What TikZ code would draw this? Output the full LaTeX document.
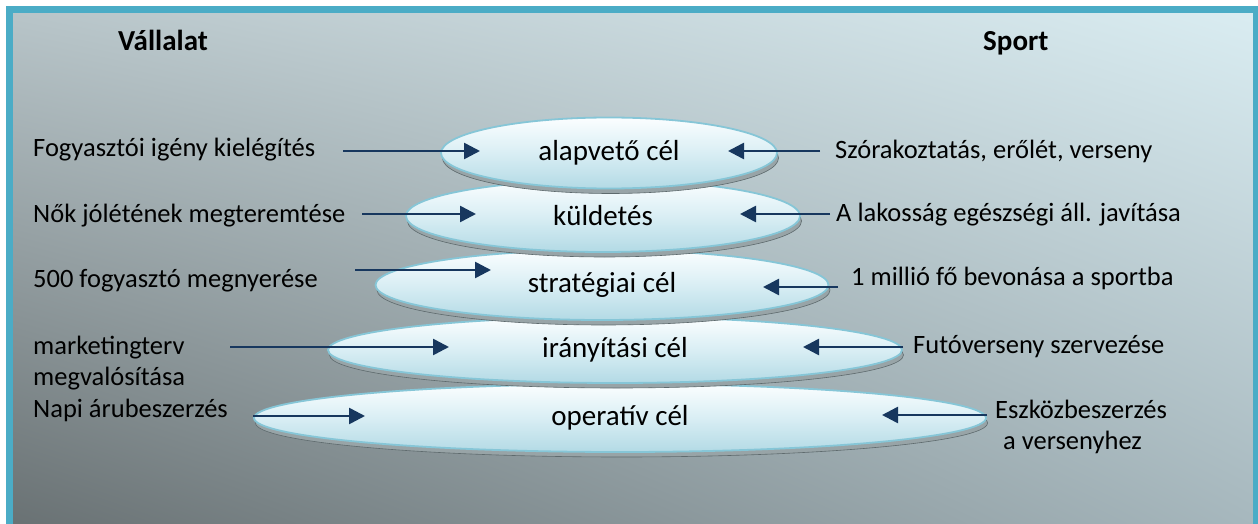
\documentclass[tikz,border=0pt]{standalone}
\usepackage{fontspec}
\setmainfont{Carlito}
\usetikzlibrary{shapes.geometric,shadows,shadings,arrows.meta}
\definecolor{frameteal}{HTML}{4BACC6}
\definecolor{bgUL}{HTML}{B8C5C9}
\definecolor{bgUR}{HTML}{DAEDF2}
\definecolor{bgLL}{HTML}{687072}
\definecolor{bgLR}{HTML}{A6B7BD}
\definecolor{navy}{HTML}{17375E}
\definecolor{elltop}{HTML}{FBFEFF}
\definecolor{ellmid}{HTML}{D9EEF4}
\definecolor{ellbot}{HTML}{B3DAE5}
\definecolor{ellline}{HTML}{86C6D7}
\definecolor{shfill}{HTML}{98A4A7}
\definecolor{shline}{HTML}{5E6A6D}
\begin{document}
\begin{tikzpicture}[x=1pt,y=-1pt,
 lvl/.style={ellipse, inner sep=0pt, draw=ellline, line width=1.8pt,
   top color=elltop, bottom color=ellbot, middle color=ellmid,
   font=\fontsize{29}{34}\selectfont, text=black,
   general shadow={shadow xshift=1.5pt, shadow yshift=-5pt, fill=shfill, draw=shline, line width=0.6pt}},
 lab/.style={anchor=base west, inner sep=0pt, font=\fontsize{26.5}{31}\selectfont, align=left, text=black},
 head/.style={anchor=base west, inner sep=0pt, font=\fontsize{29}{34}\selectfont\bfseries, text=black},
 arr/.style={draw=navy, line width=2.6pt, -{Triangle[length=16pt,width=16pt]}}]
\useasboundingbox (0,0) rectangle (1258,524);
% background panel
\shade[upper left=bgUL, upper right=bgUR, lower left=bgLL, lower right=bgLR] (9.5,9.5) rectangle (1256.5,531);
\draw[frameteal, line width=7pt] (9.5,9.5) rectangle (1256.5,531);
% headers
\node[head] (hv) at (118,51) {Vállalat};
\node[head] (hs) at (983,51) {Sport};
% ellipses (bottom to top)
\node[lvl, minimum width=732pt, minimum height=68pt] (e5) at (620,418) {operatív cél};
\node[lvl, minimum width=574pt, minimum height=66pt] (e4) at (615,350) {irányítási cél};
\node[lvl, minimum width=453pt, minimum height=70pt] (e3) at (602,285) {stratégiai cél};
\node[lvl, minimum width=394pt, minimum height=72pt] (e2) at (603,216) {küldetés};
\node[lvl, minimum width=336pt, minimum height=71pt] (e1) at (609,153) {alapvető cél};
% left labels
\node[lab] (l1) at (33,157) {Fogyasztói igény kielégítés};
\node[lab] (l2) at (33,222) {Nők jólétének megteremtése};
\node[lab] (l3) at (33,287) {500 fogyasztó megnyerése};
\node[lab] (l4) at (33,385) {marketingterv\\megvalósítása};
\node[lab] (l5) at (33,417) {Napi árubeszerzés};
% right labels
\node[lab] (r1) at (835,158) {Szórakoztatás, erőlét, verseny};
\node[lab] (r2) at (836,221) {A lakosság egészségi áll. javítása};
\node[lab] (r3) at (851,285) {1 millió fő bevonása a sportba};
\node[lab] (r4) at (913,353) {Futóverseny szervezése};
\node[lab] (r5) at (995,449) {Eszközbeszerzés\\\hspace*{8pt}a versenyhez};
% arrow end points
\coordinate (ls1) at (343,151); \coordinate (lt1) at (480,151);
\coordinate (ls2) at (362,214); \coordinate (lt2) at (476,214);
\coordinate (ls3) at (355,270); \coordinate (lt3) at (491,270);
\coordinate (ls4) at (230,347); \coordinate (lt4) at (449,347);
\coordinate (ls5) at (253,416); \coordinate (lt5) at (365,416);
\coordinate (rs1) at (820,151); \coordinate (rt1) at (728,151);
\coordinate (rs2) at (830,214); \coordinate (rt2) at (740,214);
\coordinate (rs3) at (838,287); \coordinate (rt3) at (763,287);
\coordinate (rs4) at (903,347); \coordinate (rt4) at (803,347);
\coordinate (rs5) at (987,415); \coordinate (rt5) at (882,415);
\foreach \i in {1,...,5}{
  \draw[arr] (ls\i) -- (lt\i);
  \draw[arr] (rs\i) -- (rt\i);
}
\end{tikzpicture}
\end{document}
